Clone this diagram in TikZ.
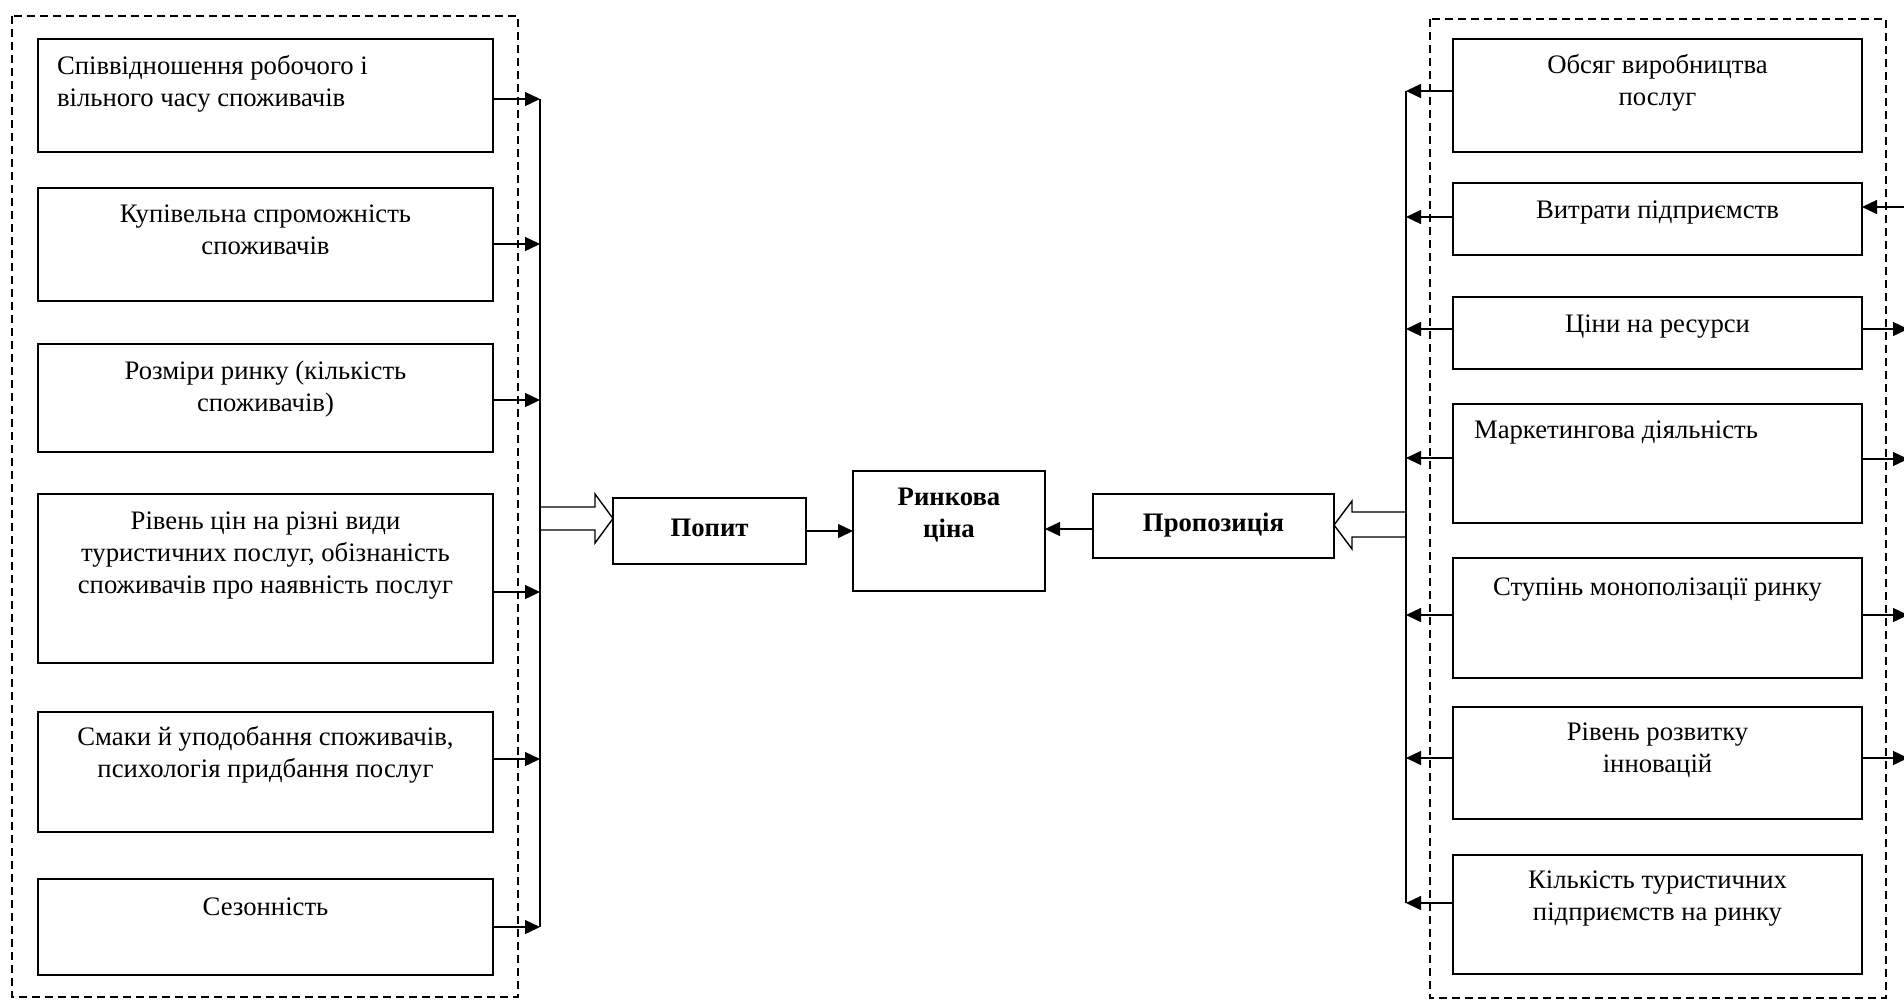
\documentclass[tikz,border=0pt]{standalone}
\usepackage{fontspec}
\setmainfont{Liberation Serif}
\usetikzlibrary{arrows.meta}
\begin{document}
\begin{tikzpicture}[x=1pt,y=-1pt,
  box/.style={draw, line width=1.4pt, inner sep=0pt, outer sep=0pt, fill=white},
  txt/.style={inner sep=0pt, outer sep=0pt, font=\fontsize{26.7}{32}\selectfont},
  btxt/.style={txt, font=\fontsize{26.7}{32}\selectfont\bfseries},
  dashbox/.style={draw, line width=1.2pt, dash pattern=on 8pt off 5pt},
  arr/.style={line width=1.4pt, -{Triangle[length=15pt,width=14pt]}},
  bus/.style={line width=1.4pt},
  hollow/.style={draw, line width=1.4pt, fill=white, line join=miter}]
\useasboundingbox (0,0) rectangle (1904,999);
\clip (0,0) rectangle (1904,999);

% dashed groups
\draw[dashbox] (12,16) rectangle (518,997);
\draw[dashbox] (1430,19) rectangle (1886,998);

% left boxes
\node[box, minimum width=455pt, minimum height=113pt] (L1) at (265.5,95.5) {};
\node[box, minimum width=455pt, minimum height=113pt] (L2) at (265.5,244.5) {};
\node[box, minimum width=455pt, minimum height=108pt] (L3) at (265.5,398) {};
\node[box, minimum width=455pt, minimum height=169pt] (L4) at (265.5,578.5) {};
\node[box, minimum width=455pt, minimum height=120pt] (L5) at (265.5,772) {};
\node[box, minimum width=455pt, minimum height=96pt] (L6) at (265.5,927) {};

\node[txt, anchor=north west, align=left] (tL1) at ([xshift=19pt, yshift=-12.6pt]L1.north west) {\strut Співвідношення робочого і\\вільного часу споживачів};
\node[txt, anchor=north, align=center] (tL2) at ([yshift=-11.6pt]L2.north) {\strut Купівельна спроможність\\споживачів};
\node[txt, anchor=north, align=center] (tL3) at ([yshift=-12.6pt]L3.north) {\strut Розміри ринку (кількість\\споживачів)};
\node[txt, anchor=north, align=center] (tL4) at ([yshift=-12.6pt]L4.north) {\strut Рівень цін на різні види\\туристичних послуг, обізнаність\\споживачів про наявність послуг};
\node[txt, anchor=north, align=center] (tL5) at ([yshift=-10.6pt]L5.north) {\strut Смаки й уподобання споживачів,\\психологія придбання послуг};
\node[txt, anchor=north, align=center] (tL6) at ([yshift=-13.6pt]L6.north) {\strut Сезонність};

% left bus
\coordinate (bL1) at (540,99);
\coordinate (bL2) at (540,244);
\coordinate (bL3) at (540,400);
\coordinate (bL4) at (540,592);
\coordinate (bL5) at (540,759);
\coordinate (bL6) at (540,927);

% centre boxes
\node[box, minimum width=193pt, minimum height=66pt] (P) at (709.5,531) {};
\node[btxt, anchor=north] (tP) at ([yshift=-15.6pt]P.north) {\strut Попит};
\node[box, minimum width=192pt, minimum height=120pt] (C) at (949,531) {};
\node[btxt, anchor=north, align=center] (tC) at ([yshift=-11.6pt]C.north) {\strut Ринкова\\ціна};
\node[box, minimum width=241pt, minimum height=64pt] (S) at (1213.5,526) {};
\node[btxt, anchor=north] (tS) at ([yshift=-14.6pt]S.north) {\strut Пропозиція};

% right boxes
\node[box, minimum width=409pt, minimum height=113pt] (R1) at (1657.5,95.5) {};
\node[box, minimum width=409pt, minimum height=72pt] (R2) at (1657.5,219) {};
\node[box, minimum width=409pt, minimum height=72pt] (R3) at (1657.5,333) {};
\node[box, minimum width=409pt, minimum height=119pt] (R4) at (1657.5,463.5) {};
\node[box, minimum width=409pt, minimum height=120pt] (R5) at (1657.5,618) {};
\node[box, minimum width=409pt, minimum height=112pt] (R6) at (1657.5,763) {};
\node[box, minimum width=409pt, minimum height=119pt] (R7) at (1657.5,914.5) {};

\node[txt, anchor=north, align=center] (tR1) at ([yshift=-11.6pt]R1.north) {\strut Обсяг виробництва\\послуг};
\node[txt, anchor=north, align=center] (tR2) at ([yshift=-12.6pt]R2.north) {\strut Витрати підприємств};
\node[txt, anchor=north, align=center] (tR3) at ([yshift=-12.6pt]R3.north) {\strut Ціни на ресурси};
\node[txt, anchor=north west, align=left] (tR4) at ([xshift=21pt, yshift=-11.6pt]R4.north west) {\strut Маркетингова діяльність};
\node[txt, anchor=north, align=center] (tR5) at ([yshift=-14.6pt]R5.north) {\strut Ступінь монополізації ринку};
\node[txt, anchor=north, align=center] (tR6) at ([yshift=-10.6pt]R6.north) {\strut Рівень розвитку\\інновацій};
\node[txt, anchor=north, align=center] (tR7) at ([yshift=-10.6pt]R7.north) {\strut Кількість туристичних\\підприємств на ринку};

% right bus
\coordinate (bR1) at (1406,91);
\coordinate (bR2) at (1406,217);
\coordinate (bR3) at (1406,329);
\coordinate (bR4) at (1406,458);
\coordinate (bR5) at (1406,615);
\coordinate (bR6) at (1406,758);
\coordinate (bR7) at (1406,903);

% hollow arrows
\draw[hollow] (bL1 |- 0,507) -- (595,507) -- (595,494) -- (P.west |- 0,518.5) -- (595,543) -- (595,530) -- (bL1 |- 0,530) -- cycle;
\draw[hollow] (bR1 |- 0,512) -- (1352,512) -- (1352,501) -- (S.east |- 0,525) -- (1352,549) -- (1352,537) -- (bR1 |- 0,537) -- cycle;

% buses
\draw[bus] (bL1) -- (bL6);
\draw[bus] (bR1) -- (bR7);

% left arrows into bus
\foreach \i in {1,...,6} {\draw[arr] (L\i.east |- bL\i) -- (bL\i);}
% right arrows into bus
\foreach \i in {1,...,7} {\draw[arr] (R\i.west |- bR\i) -- (bR\i);}

% centre arrows
\draw[arr] (P.east) -- (C.west |- P.east);
\draw[arr] (S.west |- 0,529) -- (C.east |- 0,529);

% right edge arrows
\coordinate (eR2) at (1912,207);
\coordinate (eR3) at (1908,329);
\coordinate (eR4) at (1908,459);
\coordinate (eR5) at (1908,615);
\coordinate (eR6) at (1908,758);
\draw[arr] (eR2) -- (R2.east |- eR2);
\foreach \i in {3,...,6} {\draw[arr] (R\i.east |- eR\i) -- (eR\i);}
\end{tikzpicture}
\end{document}
